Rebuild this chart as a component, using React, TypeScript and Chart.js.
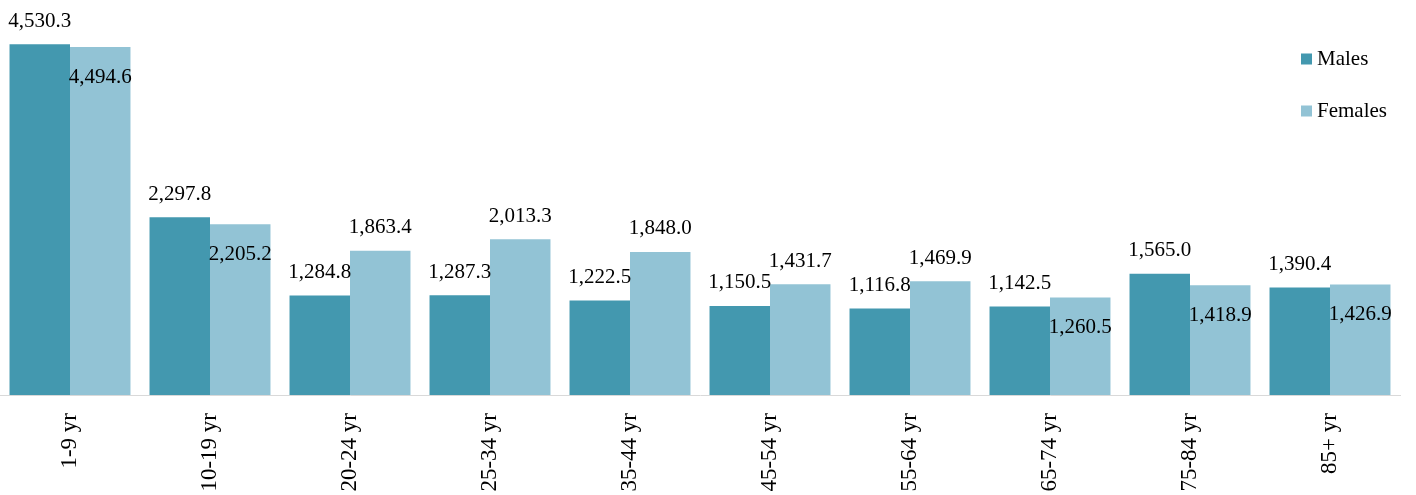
import React, { useEffect, useRef } from "react";
import { Chart, registerables } from "chart.js";

Chart.register(...registerables);

const categories = ["1-9 yr", "10-19 yr", "20-24 yr", "25-34 yr", "35-44 yr", "45-54 yr", "55-64 yr", "65-74 yr", "75-84 yr", "85+ yr"];
const males = [4530.3, 2297.8, 1284.8, 1287.3, 1222.5, 1150.5, 1116.8, 1142.5, 1565.0, 1390.4];
const females = [4494.6, 2205.2, 1863.4, 2013.3, 1848.0, 1431.7, 1469.9, 1260.5, 1418.9, 1426.9];
const seriesNames = ["Males", "Females"];
const yMax = 5000;

const MALE_COLOR = "#4398AF";
const FEMALE_COLOR = "#92C3D5";
const FONT = "'Liberation Serif', 'Times New Roman', serif";

const fmt = (v: number) =>
  v.toLocaleString("en-US", { minimumFractionDigits: 1, maximumFractionDigits: 1 });

const labelPlugin = {
  id: "barLabels",
  afterDatasetsDraw(chart: any) {
    const ctx = chart.ctx;
    ctx.save();
    ctx.font = `21px ${FONT}`;
    ctx.fillStyle = "#000";
    ctx.textAlign = "center";
    ctx.textBaseline = "middle";
    const m = chart.getDatasetMeta(0);
    const f = chart.getDatasetMeta(1);
    const mv = chart.data.datasets[0].data as number[];
    const fv = chart.data.datasets[1].data as number[];
    m.data.forEach((bar: any, i: number) => {
      ctx.fillText(fmt(mv[i]), bar.x, bar.y - 23);
    });
    f.data.forEach((bar: any, i: number) => {
      const inside = fv[i] - mv[i] < 200;
      ctx.fillText(fmt(fv[i]), bar.x, inside ? bar.y + 30 : bar.y - 23);
    });
    ctx.restore();
  },
};

const legendPlugin = {
  id: "overlayLegend",
  afterDraw(chart: any) {
    const ctx = chart.ctx;
    ctx.save();
    ctx.font = `21px ${FONT}`;
    ctx.textBaseline = "middle";
    ctx.textAlign = "left";
    chart.data.datasets.forEach((ds: any, i: number) => {
      const y = 59 + i * 52;
      ctx.fillStyle = ds.backgroundColor;
      ctx.fillRect(1301, y - 5.5, 11, 11);
      ctx.fillStyle = "#000";
      ctx.fillText(ds.label, 1317, y);
    });
    ctx.restore();
  },
};

export default function App() {
  const ref = useRef<HTMLCanvasElement>(null);
  useEffect(() => {
    document.body.style.margin = "0";
    if (!ref.current) return;
    const chart = new Chart(ref.current, {
      type: "bar",
      data: {
        labels: categories,
        datasets: [
          { label: seriesNames[0], data: males, backgroundColor: MALE_COLOR, categoryPercentage: 0.864, barPercentage: 1 },
          { label: seriesNames[1], data: females, backgroundColor: FEMALE_COLOR, categoryPercentage: 0.864, barPercentage: 1 },
        ],
      },
      options: {
        animation: false,
        responsive: false,
        maintainAspectRatio: false,
        layout: { padding: { top: 8, left: 0, right: 16, bottom: 0 } },
        plugins: { legend: { display: false }, tooltip: { enabled: false } },
        scales: {
          x: {
            grid: { display: false },
            border: { display: true, color: "#d9d9d9", width: 1 },
            ticks: {
              color: "#000",
              font: { family: FONT, size: 23 },
              minRotation: 90,
              maxRotation: 90,
              padding: 10,
              autoSkip: false,
            },
            afterFit: (s: any) => {
              s.height = 100;
            },
          },
          y: {
            display: false,
            min: 0,
            max: yMax,
          },
        },
      },
      plugins: [labelPlugin, legendPlugin],
    });
    return () => chart.destroy();
  }, []);
  return (
    <div style={{ position: "absolute", left: 0, top: 0, width: 1416, height: 495, background: "#fff" }}>
      <canvas ref={ref} width={1416} height={495} style={{ width: 1416, height: 495 }} />
    </div>
  );
}
